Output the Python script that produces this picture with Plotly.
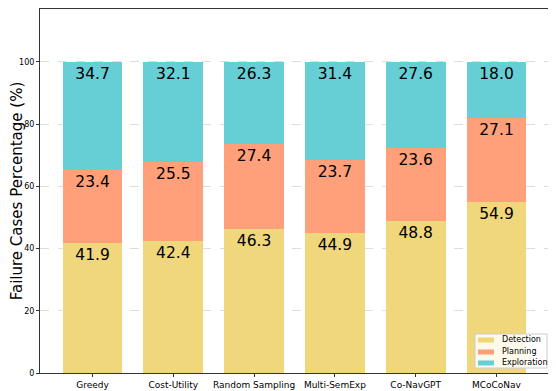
import plotly.graph_objects as go

methods = ["Greedy", "Cost-Utility", "Random Sampling", "Multi-SemExp", "Co-NavGPT", "MCoCoNav"]
detection = [41.9, 42.4, 46.3, 44.9, 48.8, 54.9]
planning = [23.4, 25.5, 27.4, 23.7, 23.6, 27.1]
exploration = [34.7, 32.1, 26.3, 31.4, 27.6, 18.0]

series = [
    ("Detection", detection, "#F0D77B"),
    ("Planning", planning, "#FFA07A"),
    ("Exploration", exploration, "#66CFD6"),
]

fig = go.Figure()
for name, vals, color in series:
    fig.add_trace(go.Bar(
        x=list(range(len(methods))), y=vals, name=name,
        marker=dict(color=color, line=dict(width=0)),
        width=0.74,
        text=[f"{v:.1f}" for v in vals],
        textposition="inside", insidetextanchor="end",
        textfont=dict(size=15.5, color="black", family="DejaVu Sans"),
        constraintext="none",
    ))

# compact legend (plotly's own legend rows are too tall), drawn in paper coords
box_x0, box_x1, box_y0, box_y1 = 0.8546, 0.9961, 0.0137, 0.1071
row_y = [0.0907, 0.0577, 0.0275]
fig.add_shape(type="rect", xref="paper", yref="paper",
              x0=box_x0, x1=box_x1, y0=box_y0, y1=box_y1,
              fillcolor="rgba(255,255,255,0.85)", line=dict(color="#cccccc", width=1))
for (name, _, color), ry in zip(series, row_y):
    fig.add_shape(type="rect", xref="paper", yref="paper",
                  x0=0.8605, x1=0.8919, y0=ry - 0.0069, y1=ry + 0.0069,
                  fillcolor=color, line=dict(width=0))
    fig.add_annotation(xref="paper", yref="paper", x=0.9037, y=ry,
                       text=name, showarrow=False, xanchor="left", yanchor="middle",
                       font=dict(size=8, color="black"))

# page has an 8px body margin, so the figure is sized to fit the window
fig.update_layout(
    barmode="stack",
    width=548, height=383,
    margin=dict(l=32, r=7, t=1, b=18),
    plot_bgcolor="white", paper_bgcolor="white",
    font=dict(family="DejaVu Sans", color="black"),
    showlegend=False,
)
fig.update_xaxes(
    tickmode="array", tickvals=list(range(len(methods))), ticktext=methods,
    range=[-0.65, 5.65],
    showline=True, linecolor="#333333", linewidth=1, mirror=True,
    ticks="outside", ticklen=3, tickcolor="#333333",
    tickfont=dict(size=9), showgrid=False, automargin=False,
)
fig.update_yaxes(
    range=[0, 117], tickvals=[0, 20, 40, 60, 80, 100],
    showline=True, linecolor="#333333", linewidth=1, mirror=True,
    ticks="outside", ticklen=3, tickcolor="#333333",
    tickfont=dict(size=8),
    showgrid=True, gridcolor="#dddddd", griddash="dash", gridwidth=0.6,
    title=dict(text="Failure Cases Percentage (%)", font=dict(size=15), standoff=8),
    zeroline=False, automargin=False,
)

fig.write_html("out.html")
